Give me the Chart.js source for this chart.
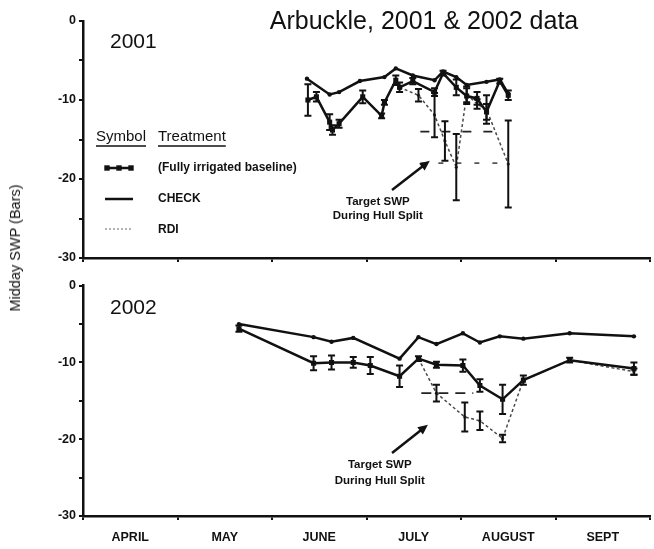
<!DOCTYPE html>
<html>
<head>
<meta charset="utf-8">
<script src="https://cdn.jsdelivr.net/npm/chart.js@4.4.1/dist/chart.umd.min.js"></script>
<style>
html, body { margin: 0; padding: 0; background: #fff; }
#wrap { position: relative; width: 654px; height: 549px; overflow: hidden; }
#c2001 { position: absolute; left: 0; top: 0; }
#c2002 { position: absolute; left: 0; top: 270px; }
#ytitle {
  position: absolute; left: 15px; top: 248px;
  transform: translate(-50%, -50%) rotate(-90deg);
  font: 14.5px "Liberation Sans", Arial, sans-serif; color: #111; white-space: nowrap;
}
</style>
</head>
<body>
<div id="wrap">
  <canvas id="c2001" width="654" height="270"></canvas>
  <canvas id="c2002" width="654" height="279"></canvas>
  <div id="ytitle">Midday SWP (Bars)</div>
</div>
<script>
// x values are months into the season: 0 = 1 April ... 6 = 1 October
const monthLabels = ['APRIL', 'MAY', 'JUNE', 'JULY', 'AUGUST', 'SEPT'];
const swpTickLabels = [0, -10, -20, -30];
const treatments = ['(Fully irrigated baseline)', 'CHECK', 'RDI'];

// ---- 2001 ----
const check2001Date = [2.37, 2.61, 2.71, 2.93, 3.19, 3.31, 3.49, 3.72, 3.81, 3.95, 4.06, 4.27, 4.41, 4.50];
const check2001Swp  = [-7.3, -9.3, -9.0, -7.6, -7.1, -6.0, -6.9, -7.5, -6.4, -7.1, -8.1, -7.7, -7.4, -9.2];

const base2001Date = [2.38, 2.47, 2.61, 2.64, 2.71, 2.96, 3.16, 3.19, 3.31, 3.35, 3.49, 3.72, 3.81, 3.95, 4.06, 4.17, 4.27, 4.41, 4.50];
const base2001Swp  = [-10.0, -9.6, -12.8, -13.8, -13.0, -9.6, -12.0, -10.3, -7.5, -8.4, -7.6, -9.0, -6.6, -8.4, -9.5, -9.8, -11.5, -7.6, -9.4];
const base2001Err  = [2.0, 0.6, 1.0, 0.6, 0.5, 0.8, 0.3, 0.3, 0.6, 0.6, 0.4, 0.5, 0.3, 1.0, 1.0, 0.8, 1.0, 0.3, 0.6];

const rdi2001Date = [3.35, 3.55, 3.72, 3.83, 3.95, 4.06, 4.17, 4.27, 4.50];
const rdi2001Swp  = [-8.4, -9.4, -11.9, -15.2, -18.5, -9.3, -10.5, -11.2, -18.1];
const rdi2001Err  = [0, 0.8, 2.8, 2.5, 4.2, 1.0, 0.6, 1.8, 5.5];

const target2001Swp = [-14, -18];
const hullSplit2001 = [3.57, 4.41];

// ---- 2002 ----
const check2002Date = [1.65, 2.44, 2.63, 2.86, 3.35, 3.55, 3.74, 4.02, 4.20, 4.41, 4.66, 5.15, 5.83];
const check2002Swp  = [-5.0, -6.7, -7.3, -6.8, -9.5, -6.7, -7.6, -6.2, -7.4, -6.6, -6.9, -6.2, -6.6];

const base2002Date = [1.65, 2.44, 2.63, 2.86, 3.04, 3.35, 3.55, 3.74, 4.02, 4.20, 4.44, 4.66, 5.15, 5.83];
const base2002Swp  = [-5.6, -10.1, -10.0, -10.0, -10.4, -11.8, -9.5, -10.3, -10.4, -13.0, -14.8, -12.3, -9.7, -10.8];
const base2002Err  = [0.4, 0.9, 0.9, 0.7, 1.1, 1.4, 0.3, 0.4, 0.8, 0.8, 1.9, 0.6, 0.3, 0.8];

const rdi2002Date = [3.55, 3.74, 4.04, 4.20, 4.44, 4.66, 5.15, 5.83];
const rdi2002Swp  = [-9.5, -14.0, -17.1, -17.6, -19.9, -12.3, -9.7, -11.2];
const rdi2002Err  = [0, 1.1, 1.9, 1.2, 0.5, 0, 0, 0.4];

const target2002Swp = [-14];
const hullSplit2002 = [3.58, 4.13];

const FONT = '"Liberation Sans", Arial, sans-serif';
const INK = '#111';
Chart.defaults.font.family = FONT;
Chart.defaults.color = INK;
Chart.defaults.animation = false;

function pts(xs, ys) { return xs.map((x, i) => ({ x: x, y: ys[i] })); }

function targetSets(values, span, dashes, colors) {
  return values.map((v, i) => ({
    label: 'Target SWP',
    data: [{ x: span[0], y: v }, { x: span[1], y: v }],
    borderColor: colors[i], borderWidth: 1.8, borderDash: dashes[i],
    pointRadius: 0, order: 5
  }));
}

function panelSets(p) {
  return [
    { label: 'RDI', data: pts(p.rdiDate, p.rdiSwp), errorBars: p.rdiErr,
      borderColor: '#4a4a4a', borderWidth: 1.5, borderDash: [3, 2.5],
      pointRadius: 1.6, pointBackgroundColor: '#333', pointBorderWidth: 0, order: 3 },
    { label: 'CHECK', data: pts(p.checkDate, p.checkSwp),
      borderColor: INK, borderWidth: 2.5,
      pointRadius: 2.2, pointBackgroundColor: INK, pointBorderWidth: 0, order: 2 },
    { label: 'Fully irrigated baseline', data: pts(p.baseDate, p.baseSwp), errorBars: p.baseErr,
      borderColor: INK, borderWidth: 2.5, pointStyle: 'rect',
      pointRadius: 3.6, pointBackgroundColor: INK, pointBorderWidth: 0, order: 1 }
  ];
}

// vertical error bars with caps
const errorBarPlugin = {
  id: 'errorBars',
  afterDatasetsDraw(chart) {
    const c = chart.ctx, ys = chart.scales.y;
    chart.data.datasets.forEach((ds, i) => {
      if (!ds.errorBars) return;
      const meta = chart.getDatasetMeta(i);
      c.save();
      c.strokeStyle = INK; c.lineWidth = 2;
      meta.data.forEach((pt, j) => {
        const e = ds.errorBars[j];
        if (!e) return;
        const v = ds.data[j].y;
        const t = ys.getPixelForValue(v + e), b = ys.getPixelForValue(v - e);
        c.beginPath();
        c.moveTo(pt.x, t); c.lineTo(pt.x, b);
        c.moveTo(pt.x - 3.5, t); c.lineTo(pt.x + 3.5, t);
        c.moveTo(pt.x - 3.5, b); c.lineTo(pt.x + 3.5, b);
        c.stroke();
      });
      c.restore();
    });
  }
};

// "Target SWP" note with arrow, placed in data units
function notePlugin(note) {
  return {
    id: 'targetNote',
    afterDraw(chart) {
      const c = chart.ctx, xs = chart.scales.x, ys = chart.scales.y;
      const X = v => xs.getPixelForValue(v), Y = v => ys.getPixelForValue(v);
      c.save();
      c.fillStyle = INK; c.strokeStyle = INK;
      c.font = 'bold 11.5px ' + FONT;
      c.textAlign = 'center'; c.textBaseline = 'middle';
      c.fillText('Target SWP', X(note.text[0]), Y(note.text[1]));
      c.fillText('During Hull Split', X(note.text[0]), Y(note.text[2]));
      const x0 = X(note.from[0]), y0 = Y(note.from[1]);
      const x1 = X(note.to[0]), y1 = Y(note.to[1]);
      const a = Math.atan2(y1 - y0, x1 - x0);
      c.lineWidth = 2.5;
      c.beginPath();
      c.moveTo(x0, y0);
      c.lineTo(x1 - 7 * Math.cos(a), y1 - 7 * Math.sin(a));
      c.stroke();
      c.beginPath();
      c.moveTo(x1, y1);
      c.lineTo(x1 - 10 * Math.cos(a) + 4.5 * Math.sin(a), y1 - 10 * Math.sin(a) - 4.5 * Math.cos(a));
      c.lineTo(x1 - 10 * Math.cos(a) - 4.5 * Math.sin(a), y1 - 10 * Math.sin(a) + 4.5 * Math.cos(a));
      c.closePath();
      c.fill();
      c.restore();
    }
  };
}

function headerPlugin(drawTitle, year, yearY) {
  return {
    id: 'panelHeader',
    afterDraw(chart) {
      const c = chart.ctx;
      c.save();
      c.fillStyle = INK;
      c.textBaseline = 'middle';
      if (drawTitle) {
        c.font = '25px ' + FONT;
        c.textAlign = 'center';
        c.fillText('Arbuckle, 2001 & 2002 data', 424, 22);
      }
      c.font = '21px ' + FONT;
      c.textAlign = 'left';
      c.fillText(year, 110, yearY);
      c.restore();
    }
  };
}

// treatment key drawn inside the 2001 panel
const keyPlugin = {
  id: 'treatmentKey',
  afterDraw(chart) {
    const c = chart.ctx;
    c.save();
    c.fillStyle = INK; c.strokeStyle = INK;
    c.textBaseline = 'middle'; c.textAlign = 'left';
    c.font = '15px ' + FONT;
    const heads = [['Symbol', 96], ['Treatment', 158]];
    heads.forEach(([t, x]) => {
      c.fillText(t, x, 137);
      const w = c.measureText(t).width;
      c.lineWidth = 1.5;
      c.beginPath(); c.moveTo(x, 146); c.lineTo(x + w, 146); c.stroke();
    });
    c.font = 'bold 12px ' + FONT;
    const rows = [168, 199, 229];
    treatments.forEach((t, i) => c.fillText(t, 158, rows[i] + (i === 2 ? 1 : 0)));
    // baseline symbol
    c.lineWidth = 2.5;
    c.beginPath(); c.moveTo(105, rows[0]); c.lineTo(133, rows[0]); c.stroke();
    [107, 119, 131].forEach(x => c.fillRect(x - 2.7, rows[0] - 2.7, 5.4, 5.4));
    // check symbol
    c.beginPath(); c.moveTo(105, rows[1]); c.lineTo(133, rows[1]); c.stroke();
    // rdi symbol
    c.strokeStyle = '#9a9a9a'; c.lineWidth = 1.5; c.setLineDash([2, 2]);
    c.beginPath(); c.moveTo(105, rows[2]); c.lineTo(133, rows[2]); c.stroke();
    c.restore();
  }
};

function scales(showMonths, axisHeight) {
  return {
    x: {
      type: 'linear', min: 0, max: 6,
      ticks: {
        stepSize: 0.5, autoSkip: false, maxRotation: 0, padding: 10,
        font: { size: 12.5, weight: 'bold' }, color: INK,
        callback: v => (showMonths && !Number.isInteger(v)) ? monthLabels[Math.floor(v)] : ''
      },
      grid: {
        drawOnChartArea: false, drawTicks: true, tickLength: 4, lineWidth: 2,
        color: ctx => (ctx.tick && Number.isInteger(ctx.tick.value)) ? INK : 'rgba(0,0,0,0)'
      },
      border: { color: INK, width: 2.5 },
      afterFit: s => { s.height = axisHeight; s.paddingLeft = 0; s.paddingRight = 0; }
    },
    y: {
      min: -30, max: 0,
      ticks: {
        stepSize: 5, padding: 3, color: INK,
        font: { size: 12.5, weight: 'bold' },
        callback: v => swpTickLabels.includes(v) ? String(v) : ''
      },
      grid: { drawOnChartArea: false, drawTicks: true, tickLength: 4, lineWidth: 2, color: INK },
      border: { color: INK, width: 2.5 },
      afterFit: s => { s.width = 83; }
    }
  };
}

const commonPlugins = { legend: { display: false }, tooltip: { enabled: false } };

new Chart(document.getElementById('c2001'), {
  type: 'line',
  data: {
    datasets: panelSets({
      checkDate: check2001Date, checkSwp: check2001Swp,
      baseDate: base2001Date, baseSwp: base2001Swp, baseErr: base2001Err,
      rdiDate: rdi2001Date, rdiSwp: rdi2001Swp, rdiErr: rdi2001Err
    }).concat(targetSets(target2001Swp, hullSplit2001, [[9, 12], [5, 13]], ['#222', '#555']))
  },
  options: {
    responsive: false,
    layout: { padding: { top: 21, right: 3, left: 0, bottom: 0 } },
    scales: scales(false, 12),
    plugins: commonPlugins
  },
  plugins: [errorBarPlugin, headerPlugin(true, '2001', 42), keyPlugin,
    notePlugin({ text: [3.12, -22.9, -24.7], from: [3.27, -21.4], to: [3.67, -17.7] })]
});

new Chart(document.getElementById('c2002'), {
  type: 'line',
  data: {
    datasets: panelSets({
      checkDate: check2002Date, checkSwp: check2002Swp,
      baseDate: base2002Date, baseSwp: base2002Swp, baseErr: base2002Err,
      rdiDate: rdi2002Date, rdiSwp: rdi2002Swp, rdiErr: rdi2002Err
    }).concat(targetSets(target2002Swp, hullSplit2002, [[10, 7]], ['#222']))
  },
  options: {
    responsive: false,
    layout: { padding: { top: 15.7, right: 3, left: 0, bottom: 0 } },
    scales: scales(true, 33),
    plugins: commonPlugins
  },
  plugins: [errorBarPlugin, headerPlugin(false, '2002', 38),
    notePlugin({ text: [3.14, -23.3, -25.4], from: [3.27, -21.8], to: [3.65, -18.1] })]
});
</script>
</body>
</html>
